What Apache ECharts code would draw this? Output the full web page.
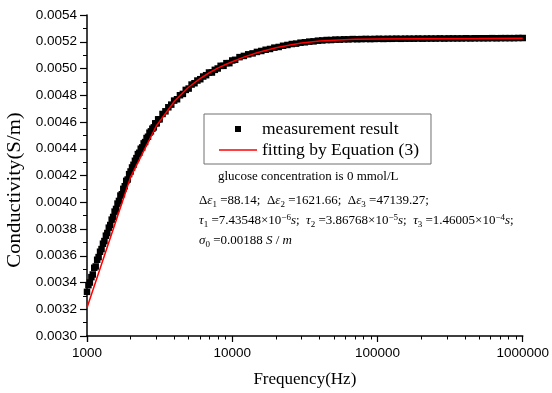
<!DOCTYPE html>
<html>
<head>
<meta charset="utf-8">
<script src="https://cdn.jsdelivr.net/npm/echarts@6/dist/echarts.min.js"></script>
<style>html,body{margin:0;padding:0;background:#fff;}#chart{width:552px;height:393px;}</style>
</head>
<body>
<div id="chart"></div>
<script>
// Measurement frequencies (Hz) and conductivity (S/m)
const freq = [1000, 1023, 1047, 1072, 1096, 1122, 1148, 1175, 1202, 1230,
  1259, 1288, 1318, 1349, 1380, 1413, 1445, 1479, 1514, 1549,
  1585, 1622, 1660, 1698, 1738, 1778, 1820, 1862, 1905, 1950,
  1995, 2042, 2089, 2138, 2188, 2239, 2291, 2344, 2399, 2455,
  2512, 2570, 2630, 2692, 2754, 2818, 2884, 2951, 3020, 3090,
  3162, 3311, 3467, 3631, 3802, 3981, 4169, 4365, 4571, 4786,
  5012, 5248, 5495, 5754, 6026, 6310, 6607, 6918, 7244, 7586,
  7943, 8318, 8710, 9120, 9550, 10000, 10471, 11220, 12023, 12882,
  13804, 14791, 15849, 16982, 18197, 19498, 20893, 22387, 23988, 25704,
  27542, 29512, 31623, 33884, 36308, 38905, 41687, 44668, 47863, 51286,
  54954, 58884, 63096, 67608, 72444, 77625, 83176, 89125, 95499, 102329,
  109648, 117490, 125893, 134896, 144544, 154882, 165959, 177828, 190546, 204174,
  218776, 234423, 251189, 269153, 288403, 309030, 331131, 354813, 380189, 407380,
  436516, 467735, 501187, 537032, 575440, 616595, 660693, 707946, 758578, 812831,
  870964, 933254, 1000000];
const measured = [0.00333, 0.00338, 0.00340, 0.00344, 0.00346, 0.00351, 0.00352, 0.00357, 0.00359, 0.00363,
  0.00365, 0.00369, 0.00371, 0.00375, 0.00377, 0.00381, 0.00383, 0.00387, 0.00389, 0.00393,
  0.00395, 0.00399, 0.00401, 0.00405, 0.00406, 0.00410, 0.00412, 0.00416, 0.00417, 0.00421,
  0.00423, 0.00426, 0.00428, 0.00431, 0.00433, 0.00436, 0.00437, 0.00440, 0.00441, 0.00444,
  0.00445, 0.00448, 0.00449, 0.00452, 0.00453, 0.00455, 0.00456, 0.00459, 0.00459, 0.00462,
  0.00462, 0.00466, 0.00468, 0.00471, 0.00473, 0.00476, 0.00477, 0.00480, 0.00481, 0.00484,
  0.00485, 0.00488, 0.00489, 0.00491, 0.00492, 0.00494, 0.00495, 0.00497, 0.00497, 0.00499,
  0.00500, 0.00502, 0.00502, 0.00504, 0.00504, 0.00506, 0.005065, 0.005085, 0.005094, 0.005106,
  0.005113, 0.005124, 0.005131, 0.00514, 0.005146, 0.005156, 0.005161, 0.00517, 0.005176, 0.005183,
  0.005186, 0.005193, 0.005196, 0.005201, 0.005203, 0.005208, 0.00521, 0.005213, 0.005213, 0.005216,
  0.005216, 0.005218, 0.005218, 0.00522, 0.005219, 0.00522, 0.005221, 0.00522, 0.005221, 0.005222,
  0.005221, 0.005222, 0.005222, 0.005223, 0.005222, 0.005223, 0.005223, 0.005223, 0.005224, 0.005223,
  0.005224, 0.005224, 0.005224, 0.005225, 0.005224, 0.005225, 0.005225, 0.005225, 0.005225, 0.005226,
  0.005225, 0.005226, 0.005226, 0.005226, 0.005226, 0.005227, 0.005226, 0.005227, 0.005227, 0.005227,
  0.005227, 0.005228, 0.005228];

// Fitted curve (Equation 3)
const fitFreq = [1000, 2000, 3000, 4000, 5000, 6000, 7000, 8000, 9000, 10000,
  12000, 15000, 20000, 25000, 30000, 40000, 50000, 70000, 100000, 200000, 500000, 1000000];
const fitValues = [0.003212, 0.00419, 0.00457, 0.004755, 0.00486, 0.004925, 0.00497, 0.005005, 0.00503, 0.00505,
  0.005085, 0.00512, 0.005155, 0.005176, 0.00519, 0.005205, 0.005212, 0.005218, 0.00522, 0.005222, 0.005224, 0.005226];

const seriesNames = ['measurement result', 'fitting by Equation (3)'];
const xRange = [1000, 1000000];
const yRange = [0.0030, 0.0054];
const yStep = 0.0002;

const chart = echarts.init(document.getElementById('chart'));
const serif = 'Liberation Serif';
const sans = 'Liberation Sans';
const baseRich = {
  n: {fontFamily: serif, fontSize: 13, lineHeight: 16, fill: '#000'},
  i: {fontFamily: serif, fontSize: 13, lineHeight: 16, fontStyle: 'italic', fill: '#000'},
  sub: {fontFamily: serif, fontSize: 9, lineHeight: 9, verticalAlign: 'bottom', fill: '#000'},
  sup: {fontFamily: serif, fontSize: 9, lineHeight: 9, verticalAlign: 'top', fill: '#000'}
};

chart.setOption({
  backgroundColor: '#fff',
  animation: false,
  grid: {left: 87, right: 27, top: 15, bottom: 56, containLabel: false},
  legend: {
    orient: 'vertical', left: 204, top: 114,
    padding: [6, 12, 5, 15], itemGap: 3, itemWidth: 38, itemHeight: 6,
    borderColor: '#707070', borderWidth: 1, backgroundColor: '#fff',
    textStyle: {fontFamily: serif, fontSize: 17.5, color: '#000', lineHeight: 17},
    data: [
      {name: seriesNames[0], icon: 'path://M0,0L1,0L1,1L0,1Z'},
      {name: seriesNames[1], icon: 'path://M0,0L40,0L40,1.6L0,1.6Z'}
    ]
  },
  xAxis: {
    type: 'log', logBase: 10, min: xRange[0], max: xRange[1],
    name: 'Frequency(Hz)', nameLocation: 'middle', nameGap: 35,
    nameTextStyle: {fontFamily: serif, fontSize: 17, color: '#000'},
    axisLine: {lineStyle: {color: '#000', width: 1.5}},
    axisTick: {inside: false, length: 6, lineStyle: {color: '#000', width: 1.2}},
    minorTick: {show: true, splitNumber: 9, length: 3.5, lineStyle: {color: '#000', width: 1}},
    axisLabel: {fontFamily: sans, fontSize: 13.5, color: '#000', margin: 10,
      formatter: v => String(Math.round(v))},
    splitLine: {show: false}
  },
  yAxis: {
    type: 'value', min: yRange[0], max: yRange[1], interval: yStep,
    axisLine: {show: true, lineStyle: {color: '#000', width: 1.5}},
    axisTick: {show: true, inside: false, length: 7, lineStyle: {color: '#000', width: 1.2}},
    minorTick: {show: true, splitNumber: 2, length: 4, lineStyle: {color: '#000', width: 1}},
    axisLabel: {fontFamily: sans, fontSize: 13.5, color: '#000', margin: 10,
      formatter: v => v.toFixed(4)},
    splitLine: {show: false}
  },
  graphic: [
    {type: 'text', x: 15, y: 190, rotation: Math.PI / 2, scaleX: 1.15,
      style: {text: 'Conductivity(S/m)', fontFamily: serif, fontSize: 18, fill: '#000',
        align: 'center', verticalAlign: 'middle'}},
    {type: 'text', x: 218, y: 177,
      style: {text: 'glucose concentration is 0 mmol/L', fontFamily: serif, fontSize: 13, fill: '#000',
        align: 'left', verticalAlign: 'middle'}},
    {type: 'text', x: 199, y: 201,
      style: {text: '{n|Δ}{i|ε}{sub|1}{n| =88.14;  Δ}{i|ε}{sub|2}{n| =1621.66;  Δ}{i|ε}{sub|3}{n| =47139.27;}',
        rich: baseRich, align: 'left', verticalAlign: 'middle'}},
    {type: 'text', x: 199, y: 221,
      style: {text: '{i|τ}{sub|1}{n| =7.43548×10}{sup|−6}{i|s}{n|;  }{i|τ}{sub|2}{n| =3.86768×10}{sup|−5}{i|s}{n|;  }{i|τ}{sub|3}{n| =1.46005×10}{sup|−4}{i|s}{n|;}',
        rich: baseRich, align: 'left', verticalAlign: 'middle'}},
    {type: 'text', x: 199, y: 241,
      style: {text: '{i|σ}{sub|0}{n| =0.00188 }{i|S}{n| / }{i|m}',
        rich: baseRich, align: 'left', verticalAlign: 'middle'}}
  ],
  series: [
    {
      name: seriesNames[0], type: 'scatter', symbol: 'rect', symbolSize: 6.5,
      itemStyle: {color: '#000', opacity: 1},
      data: freq.map((f, i) => [f, measured[i]]), z: 2
    },
    {
      name: seriesNames[1], type: 'line', symbol: 'none', smooth: false,
      lineStyle: {color: '#ff0000', width: 1.5}, itemStyle: {color: '#ff0000'},
      data: fitFreq.map((f, i) => [f, fitValues[i]]), z: 3
    }
  ]
});
</script>
</body>
</html>
